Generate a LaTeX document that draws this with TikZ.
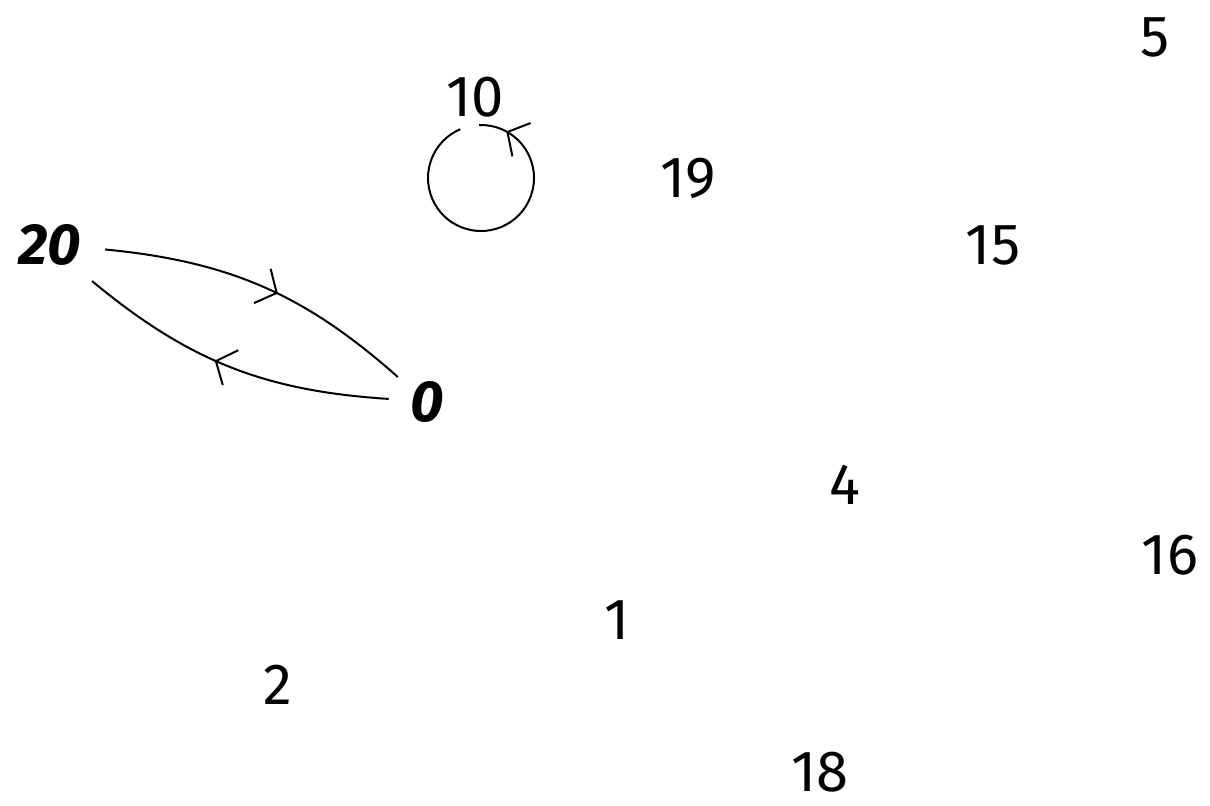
\documentclass[tikz,border=0pt]{standalone}
\usepackage{fontspec}
\setmainfont{Fira Sans}
\usetikzlibrary{arrows.meta,decorations.markings}
\tikzset{
  lbl/.style={font=\fontsize{29}{29}\selectfont, inner sep=0pt},
  hub/.style={font=\fontsize{29}{29}\selectfont\bfseries\itshape, circle, inner sep=0pt},
  barb/.tip={Straight Barb[length=8pt,width=19pt,line width=1pt]},
  midarrow/.style={line width=1pt, postaction={decorate},
    decoration={markings, mark=at position #1 with {\arrow{barb}}}}
}
\begin{document}
\begin{tikzpicture}[x=0.5pt,y=0.5pt]
\useasboundingbox (0,0) rectangle (1210,-805);
\node[lbl] (n5)  at (1155,-37) {5};
\node[lbl] (n10) at (475,-97) {10};
\node[lbl] (n19) at (688,-178) {19};
\node[hub, minimum size=55pt] (n20) at (50,-245) {20};
\node[lbl] (n15) at (993,-245) {15};
\node[hub, minimum size=38pt] (n0) at (427,-402) {0};
\node[lbl] (n4)  at (845,-485) {4};
\node[lbl] (n16) at (1170,-555) {16};
\node[lbl] (n1)  at (617,-620) {1};
\node[lbl] (n2)  at (278,-685) {2};
\node[lbl] (n18) at (820,-772) {18};
\draw[midarrow=0.55] (n20) to[bend left=18] (n0);
\draw[midarrow=0.55] (n0) to[bend left=18] (n20);
\coordinate (lc) at (481,-178);
\draw[midarrow=0.91] ([shift={(113:53)}]lc) arc[start angle=113, end angle=452, radius=26.5pt];
\end{tikzpicture}
\end{document}
